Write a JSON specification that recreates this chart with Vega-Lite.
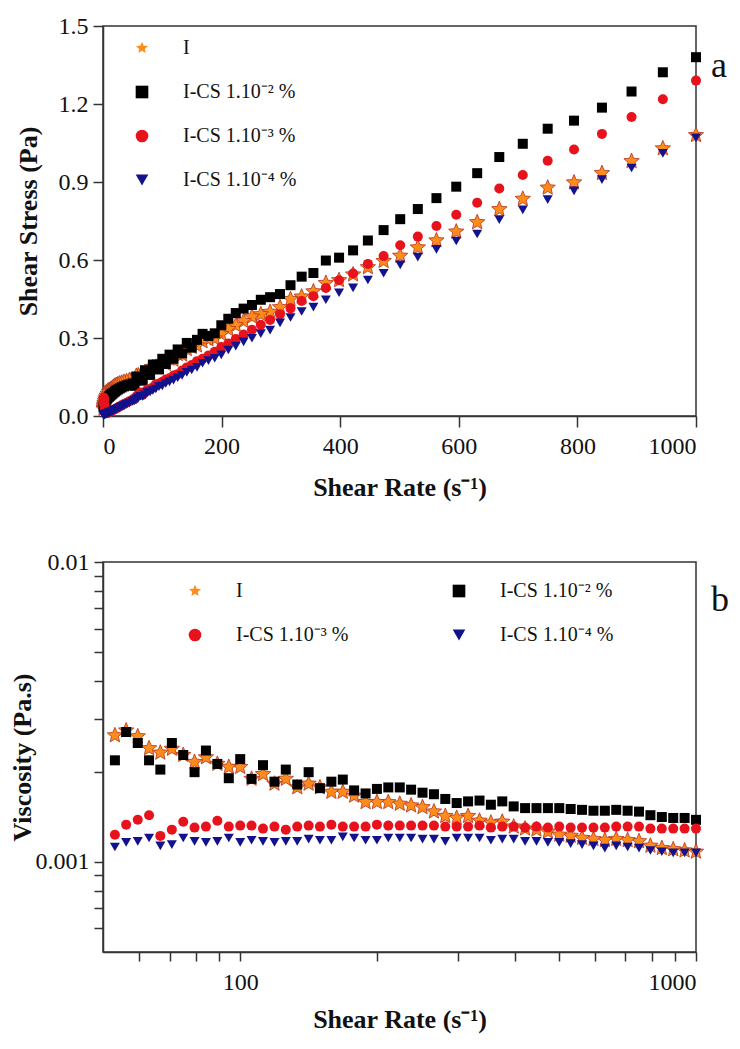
{
  "$schema": "https://vega.github.io/schema/vega-lite/v6.json",
  "background": "white",
  "padding": {"left": 8, "top": 13, "right": 5, "bottom": 5},
  "config": {
    "font": "Liberation Serif",
    "view": {"stroke": "#333333", "strokeWidth": 1.5},
    "axis": {
      "grid": false,
      "domainColor": "#333333",
      "domainWidth": 1.5,
      "tickColor": "#333333",
      "tickWidth": 1.5,
      "labelFont": "Liberation Serif",
      "labelFontSize": 24,
      "labelColor": "#111111",
      "titleFont": "Liberation Serif",
      "titleFontSize": 26,
      "titleFontWeight": "bold",
      "titleColor": "#111111"
    },
    "legend": {
      "labelFont": "Liberation Serif",
      "labelFontSize": 20,
      "labelColor": "#111111"
    },
    "concat": {"spacing": 48}
  },
  "datasets": {
    "d": [
      {"s":"I","r":1000,"t":1.080,"v":0.00108},
      {"s":"I","r":944.1,"t":1.029,"v":0.00109},
      {"s":"I","r":891.3,"t":0.980,"v":0.00110},
      {"s":"I","r":841.4,"t":0.934,"v":0.00111},
      {"s":"I","r":794.3,"t":0.898,"v":0.00113},
      {"s":"I","r":749.9,"t":0.878,"v":0.00117},
      {"s":"I","r":707.9,"t":0.835,"v":0.00118},
      {"s":"I","r":668.3,"t":0.795,"v":0.00119},
      {"s":"I","r":631.0,"t":0.745,"v":0.00118},
      {"s":"I","r":595.7,"t":0.709,"v":0.00119},
      {"s":"I","r":562.3,"t":0.675,"v":0.00120},
      {"s":"I","r":530.9,"t":0.648,"v":0.00122},
      {"s":"I","r":501.2,"t":0.616,"v":0.00123},
      {"s":"I","r":473.2,"t":0.596,"v":0.00126},
      {"s":"I","r":446.7,"t":0.572,"v":0.00128},
      {"s":"I","r":421.7,"t":0.544,"v":0.00129},
      {"s":"I","r":398.1,"t":0.522,"v":0.00131},
      {"s":"I","r":375.8,"t":0.511,"v":0.00136},
      {"s":"I","r":354.8,"t":0.479,"v":0.00135},
      {"s":"I","r":335.0,"t":0.459,"v":0.00137},
      {"s":"I","r":316.2,"t":0.449,"v":0.00142},
      {"s":"I","r":298.5,"t":0.418,"v":0.00140},
      {"s":"I","r":281.8,"t":0.400,"v":0.00142},
      {"s":"I","r":266.1,"t":0.391,"v":0.00147},
      {"s":"I","r":251.2,"t":0.382,"v":0.00152},
      {"s":"I","r":237.1,"t":0.365,"v":0.00154},
      {"s":"I","r":223.9,"t":0.349,"v":0.00156},
      {"s":"I","r":211.3,"t":0.334,"v":0.00158},
      {"s":"I","r":199.5,"t":0.315,"v":0.00158},
      {"s":"I","r":188.4,"t":0.298,"v":0.00158},
      {"s":"I","r":177.8,"t":0.295,"v":0.00166},
      {"s":"I","r":167.9,"t":0.287,"v":0.00171},
      {"s":"I","r":158.5,"t":0.271,"v":0.00171},
      {"s":"I","r":149.6,"t":0.265,"v":0.00177},
      {"s":"I","r":141.3,"t":0.257,"v":0.00182},
      {"s":"I","r":133.4,"t":0.236,"v":0.00177},
      {"s":"I","r":125.9,"t":0.238,"v":0.00189},
      {"s":"I","r":118.9,"t":0.216,"v":0.00182},
      {"s":"I","r":112.2,"t":0.220,"v":0.00196},
      {"s":"I","r":105.9,"t":0.200,"v":0.00189},
      {"s":"I","r":100.0,"t":0.207,"v":0.00207},
      {"s":"I","r":94.4,"t":0.195,"v":0.00207},
      {"s":"I","r":89.1,"t":0.189,"v":0.00212},
      {"s":"I","r":84.1,"t":0.188,"v":0.00223},
      {"s":"I","r":79.4,"t":0.171,"v":0.00215},
      {"s":"I","r":75.0,"t":0.170,"v":0.00227},
      {"s":"I","r":70.8,"t":0.169,"v":0.00238},
      {"s":"I","r":66.8,"t":0.154,"v":0.00231},
      {"s":"I","r":63.1,"t":0.151,"v":0.00239},
      {"s":"I","r":59.6,"t":0.156,"v":0.00262},
      {"s":"I","r":56.2,"t":0.154,"v":0.00274},
      {"s":"I","r":53.1,"t":0.140,"v":0.00264},
      {"s":"I","r":50.1,"t":0.138},
      {"s":"I","r":44.7,"t":0.137},
      {"s":"I","r":39.8,"t":0.134},
      {"s":"I","r":35.5,"t":0.131},
      {"s":"I","r":31.6,"t":0.128},
      {"s":"I","r":28.2,"t":0.125},
      {"s":"I","r":25.1,"t":0.122},
      {"s":"I","r":22.4,"t":0.119},
      {"s":"I","r":20.0,"t":0.116},
      {"s":"I","r":17.8,"t":0.112},
      {"s":"I","r":15.8,"t":0.108},
      {"s":"I","r":14.1,"t":0.104},
      {"s":"I","r":12.6,"t":0.100},
      {"s":"I","r":11.2,"t":0.096},
      {"s":"I","r":10.0,"t":0.092},
      {"s":"I","r":7.94,"t":0.085},
      {"s":"I","r":6.31,"t":0.078},
      {"s":"I","r":5.01,"t":0.071},
      {"s":"I","r":3.98,"t":0.064},
      {"s":"I","r":3.16,"t":0.057},
      {"s":"I","r":2.51,"t":0.050},
      {"s":"I","r":2.0,"t":0.044},
      {"s":"I","r":1.58,"t":0.038},
      {"s":"I","r":1.26,"t":0.032},
      {"s":"I","r":1.0,"t":0.027},
      {"s":"I-CS 1.10\u207b\u00b2 %","r":1000,"t":1.380,"v":0.00138},
      {"s":"I-CS 1.10\u207b\u00b2 %","r":944.1,"t":1.322,"v":0.00140},
      {"s":"I-CS 1.10\u207b\u00b2 %","r":891.3,"t":1.248,"v":0.00140},
      {"s":"I-CS 1.10\u207b\u00b2 %","r":841.4,"t":1.186,"v":0.00141},
      {"s":"I-CS 1.10\u207b\u00b2 %","r":794.3,"t":1.136,"v":0.00143},
      {"s":"I-CS 1.10\u207b\u00b2 %","r":749.9,"t":1.105,"v":0.00147},
      {"s":"I-CS 1.10\u207b\u00b2 %","r":707.9,"t":1.047,"v":0.00148},
      {"s":"I-CS 1.10\u207b\u00b2 %","r":668.3,"t":0.996,"v":0.00149},
      {"s":"I-CS 1.10\u207b\u00b2 %","r":631.0,"t":0.934,"v":0.00148},
      {"s":"I-CS 1.10\u207b\u00b2 %","r":595.7,"t":0.882,"v":0.00148},
      {"s":"I-CS 1.10\u207b\u00b2 %","r":562.3,"t":0.838,"v":0.00149},
      {"s":"I-CS 1.10\u207b\u00b2 %","r":530.9,"t":0.796,"v":0.00150},
      {"s":"I-CS 1.10\u207b\u00b2 %","r":501.2,"t":0.757,"v":0.00151},
      {"s":"I-CS 1.10\u207b\u00b2 %","r":473.2,"t":0.715,"v":0.00151},
      {"s":"I-CS 1.10\u207b\u00b2 %","r":446.7,"t":0.675,"v":0.00151},
      {"s":"I-CS 1.10\u207b\u00b2 %","r":421.7,"t":0.637,"v":0.00151},
      {"s":"I-CS 1.10\u207b\u00b2 %","r":398.1,"t":0.609,"v":0.00153},
      {"s":"I-CS 1.10\u207b\u00b2 %","r":375.8,"t":0.598,"v":0.00159},
      {"s":"I-CS 1.10\u207b\u00b2 %","r":354.8,"t":0.550,"v":0.00155},
      {"s":"I-CS 1.10\u207b\u00b2 %","r":335.0,"t":0.536,"v":0.00160},
      {"s":"I-CS 1.10\u207b\u00b2 %","r":316.2,"t":0.503,"v":0.00159},
      {"s":"I-CS 1.10\u207b\u00b2 %","r":298.5,"t":0.469,"v":0.00157},
      {"s":"I-CS 1.10\u207b\u00b2 %","r":281.8,"t":0.457,"v":0.00162},
      {"s":"I-CS 1.10\u207b\u00b2 %","r":266.1,"t":0.447,"v":0.00168},
      {"s":"I-CS 1.10\u207b\u00b2 %","r":251.2,"t":0.427,"v":0.00170},
      {"s":"I-CS 1.10\u207b\u00b2 %","r":237.1,"t":0.413,"v":0.00174},
      {"s":"I-CS 1.10\u207b\u00b2 %","r":223.9,"t":0.396,"v":0.00177},
      {"s":"I-CS 1.10\u207b\u00b2 %","r":211.3,"t":0.374,"v":0.00177},
      {"s":"I-CS 1.10\u207b\u00b2 %","r":199.5,"t":0.349,"v":0.00175},
      {"s":"I-CS 1.10\u207b\u00b2 %","r":188.4,"t":0.318,"v":0.00169},
      {"s":"I-CS 1.10\u207b\u00b2 %","r":177.8,"t":0.308,"v":0.00173},
      {"s":"I-CS 1.10\u207b\u00b2 %","r":167.9,"t":0.316,"v":0.00188},
      {"s":"I-CS 1.10\u207b\u00b2 %","r":158.5,"t":0.293,"v":0.00185},
      {"s":"I-CS 1.10\u207b\u00b2 %","r":149.6,"t":0.263,"v":0.00176},
      {"s":"I-CS 1.10\u207b\u00b2 %","r":141.3,"t":0.281,"v":0.00199},
      {"s":"I-CS 1.10\u207b\u00b2 %","r":133.4,"t":0.241,"v":0.00181},
      {"s":"I-CS 1.10\u207b\u00b2 %","r":125.9,"t":0.256,"v":0.00203},
      {"s":"I-CS 1.10\u207b\u00b2 %","r":118.9,"t":0.220,"v":0.00185},
      {"s":"I-CS 1.10\u207b\u00b2 %","r":112.2,"t":0.236,"v":0.00210},
      {"s":"I-CS 1.10\u207b\u00b2 %","r":105.9,"t":0.200,"v":0.00189},
      {"s":"I-CS 1.10\u207b\u00b2 %","r":100.0,"t":0.220,"v":0.00220},
      {"s":"I-CS 1.10\u207b\u00b2 %","r":94.4,"t":0.179,"v":0.00190},
      {"s":"I-CS 1.10\u207b\u00b2 %","r":89.1,"t":0.189,"v":0.00212},
      {"s":"I-CS 1.10\u207b\u00b2 %","r":84.1,"t":0.198,"v":0.00235},
      {"s":"I-CS 1.10\u207b\u00b2 %","r":79.4,"t":0.158,"v":0.00199},
      {"s":"I-CS 1.10\u207b\u00b2 %","r":75.0,"t":0.170,"v":0.00227},
      {"s":"I-CS 1.10\u207b\u00b2 %","r":70.8,"t":0.176,"v":0.00249},
      {"s":"I-CS 1.10\u207b\u00b2 %","r":66.8,"t":0.136,"v":0.00203},
      {"s":"I-CS 1.10\u207b\u00b2 %","r":63.1,"t":0.138,"v":0.00218},
      {"s":"I-CS 1.10\u207b\u00b2 %","r":59.6,"t":0.148,"v":0.00249},
      {"s":"I-CS 1.10\u207b\u00b2 %","r":56.2,"t":0.152,"v":0.00271},
      {"s":"I-CS 1.10\u207b\u00b2 %","r":53.1,"t":0.116,"v":0.00218},
      {"s":"I-CS 1.10\u207b\u00b2 %","r":50.1,"t":0.125},
      {"s":"I-CS 1.10\u207b\u00b2 %","r":44.7,"t":0.121},
      {"s":"I-CS 1.10\u207b\u00b2 %","r":39.8,"t":0.118},
      {"s":"I-CS 1.10\u207b\u00b2 %","r":35.5,"t":0.114},
      {"s":"I-CS 1.10\u207b\u00b2 %","r":31.6,"t":0.110},
      {"s":"I-CS 1.10\u207b\u00b2 %","r":28.2,"t":0.106},
      {"s":"I-CS 1.10\u207b\u00b2 %","r":25.1,"t":0.102},
      {"s":"I-CS 1.10\u207b\u00b2 %","r":22.4,"t":0.098},
      {"s":"I-CS 1.10\u207b\u00b2 %","r":20.0,"t":0.094},
      {"s":"I-CS 1.10\u207b\u00b2 %","r":17.8,"t":0.090},
      {"s":"I-CS 1.10\u207b\u00b2 %","r":15.8,"t":0.086},
      {"s":"I-CS 1.10\u207b\u00b2 %","r":14.1,"t":0.083},
      {"s":"I-CS 1.10\u207b\u00b2 %","r":12.6,"t":0.080},
      {"s":"I-CS 1.10\u207b\u00b2 %","r":11.2,"t":0.077},
      {"s":"I-CS 1.10\u207b\u00b2 %","r":10.0,"t":0.074},
      {"s":"I-CS 1.10\u207b\u00b2 %","r":7.94,"t":0.070},
      {"s":"I-CS 1.10\u207b\u00b2 %","r":6.31,"t":0.066},
      {"s":"I-CS 1.10\u207b\u00b2 %","r":5.01,"t":0.062},
      {"s":"I-CS 1.10\u207b\u00b2 %","r":3.98,"t":0.058},
      {"s":"I-CS 1.10\u207b\u00b2 %","r":3.16,"t":0.054},
      {"s":"I-CS 1.10\u207b\u00b2 %","r":2.51,"t":0.050},
      {"s":"I-CS 1.10\u207b\u00b2 %","r":2.0,"t":0.046},
      {"s":"I-CS 1.10\u207b\u00b2 %","r":1.58,"t":0.042},
      {"s":"I-CS 1.10\u207b\u00b2 %","r":1.26,"t":0.038},
      {"s":"I-CS 1.10\u207b\u00b2 %","r":1.0,"t":0.034},
      {"s":"I-CS 1.10\u207b\u00b3 %","r":1000,"t":1.290,"v":0.00129},
      {"s":"I-CS 1.10\u207b\u00b3 %","r":944.1,"t":1.218,"v":0.00129},
      {"s":"I-CS 1.10\u207b\u00b3 %","r":891.3,"t":1.150,"v":0.00129},
      {"s":"I-CS 1.10\u207b\u00b3 %","r":841.4,"t":1.085,"v":0.00129},
      {"s":"I-CS 1.10\u207b\u00b3 %","r":794.3,"t":1.025,"v":0.00129},
      {"s":"I-CS 1.10\u207b\u00b3 %","r":749.9,"t":0.982,"v":0.00131},
      {"s":"I-CS 1.10\u207b\u00b3 %","r":707.9,"t":0.927,"v":0.00131},
      {"s":"I-CS 1.10\u207b\u00b3 %","r":668.3,"t":0.875,"v":0.00131},
      {"s":"I-CS 1.10\u207b\u00b3 %","r":631.0,"t":0.820,"v":0.00130},
      {"s":"I-CS 1.10\u207b\u00b3 %","r":595.7,"t":0.774,"v":0.00130},
      {"s":"I-CS 1.10\u207b\u00b3 %","r":562.3,"t":0.731,"v":0.00130},
      {"s":"I-CS 1.10\u207b\u00b3 %","r":530.9,"t":0.690,"v":0.00130},
      {"s":"I-CS 1.10\u207b\u00b3 %","r":501.2,"t":0.657,"v":0.00131},
      {"s":"I-CS 1.10\u207b\u00b3 %","r":473.2,"t":0.615,"v":0.00130},
      {"s":"I-CS 1.10\u207b\u00b3 %","r":446.7,"t":0.585,"v":0.00131},
      {"s":"I-CS 1.10\u207b\u00b3 %","r":421.7,"t":0.548,"v":0.00130},
      {"s":"I-CS 1.10\u207b\u00b3 %","r":398.1,"t":0.522,"v":0.00131},
      {"s":"I-CS 1.10\u207b\u00b3 %","r":375.8,"t":0.492,"v":0.00131},
      {"s":"I-CS 1.10\u207b\u00b3 %","r":354.8,"t":0.461,"v":0.00130},
      {"s":"I-CS 1.10\u207b\u00b3 %","r":335.0,"t":0.442,"v":0.00132},
      {"s":"I-CS 1.10\u207b\u00b3 %","r":316.2,"t":0.414,"v":0.00131},
      {"s":"I-CS 1.10\u207b\u00b3 %","r":298.5,"t":0.391,"v":0.00131},
      {"s":"I-CS 1.10\u207b\u00b3 %","r":281.8,"t":0.369,"v":0.00131},
      {"s":"I-CS 1.10\u207b\u00b3 %","r":266.1,"t":0.351,"v":0.00132},
      {"s":"I-CS 1.10\u207b\u00b3 %","r":251.2,"t":0.332,"v":0.00132},
      {"s":"I-CS 1.10\u207b\u00b3 %","r":237.1,"t":0.313,"v":0.00132},
      {"s":"I-CS 1.10\u207b\u00b3 %","r":223.9,"t":0.296,"v":0.00132},
      {"s":"I-CS 1.10\u207b\u00b3 %","r":211.3,"t":0.279,"v":0.00132},
      {"s":"I-CS 1.10\u207b\u00b3 %","r":199.5,"t":0.265,"v":0.00133},
      {"s":"I-CS 1.10\u207b\u00b3 %","r":188.4,"t":0.247,"v":0.00131},
      {"s":"I-CS 1.10\u207b\u00b3 %","r":177.8,"t":0.233,"v":0.00131},
      {"s":"I-CS 1.10\u207b\u00b3 %","r":167.9,"t":0.220,"v":0.00131},
      {"s":"I-CS 1.10\u207b\u00b3 %","r":158.5,"t":0.211,"v":0.00133},
      {"s":"I-CS 1.10\u207b\u00b3 %","r":149.6,"t":0.196,"v":0.00131},
      {"s":"I-CS 1.10\u207b\u00b3 %","r":141.3,"t":0.187,"v":0.00132},
      {"s":"I-CS 1.10\u207b\u00b3 %","r":133.4,"t":0.175,"v":0.00131},
      {"s":"I-CS 1.10\u207b\u00b3 %","r":125.9,"t":0.161,"v":0.00128},
      {"s":"I-CS 1.10\u207b\u00b3 %","r":118.9,"t":0.156,"v":0.00131},
      {"s":"I-CS 1.10\u207b\u00b3 %","r":112.2,"t":0.145,"v":0.00129},
      {"s":"I-CS 1.10\u207b\u00b3 %","r":105.9,"t":0.140,"v":0.00132},
      {"s":"I-CS 1.10\u207b\u00b3 %","r":100.0,"t":0.132,"v":0.00132},
      {"s":"I-CS 1.10\u207b\u00b3 %","r":94.4,"t":0.124,"v":0.00131},
      {"s":"I-CS 1.10\u207b\u00b3 %","r":89.1,"t":0.122,"v":0.00137},
      {"s":"I-CS 1.10\u207b\u00b3 %","r":84.1,"t":0.110,"v":0.00131},
      {"s":"I-CS 1.10\u207b\u00b3 %","r":79.4,"t":0.103,"v":0.00130},
      {"s":"I-CS 1.10\u207b\u00b3 %","r":75.0,"t":0.102,"v":0.00136},
      {"s":"I-CS 1.10\u207b\u00b3 %","r":70.8,"t":0.091,"v":0.00128},
      {"s":"I-CS 1.10\u207b\u00b3 %","r":66.8,"t":0.081,"v":0.00122},
      {"s":"I-CS 1.10\u207b\u00b3 %","r":63.1,"t":0.090,"v":0.00143},
      {"s":"I-CS 1.10\u207b\u00b3 %","r":59.6,"t":0.082,"v":0.00138},
      {"s":"I-CS 1.10\u207b\u00b3 %","r":56.2,"t":0.075,"v":0.00133},
      {"s":"I-CS 1.10\u207b\u00b3 %","r":53.1,"t":0.065,"v":0.00123},
      {"s":"I-CS 1.10\u207b\u00b3 %","r":50.1,"t":0.063},
      {"s":"I-CS 1.10\u207b\u00b3 %","r":44.7,"t":0.057},
      {"s":"I-CS 1.10\u207b\u00b3 %","r":39.8,"t":0.051},
      {"s":"I-CS 1.10\u207b\u00b3 %","r":35.5,"t":0.046},
      {"s":"I-CS 1.10\u207b\u00b3 %","r":31.6,"t":0.041},
      {"s":"I-CS 1.10\u207b\u00b3 %","r":28.2,"t":0.037},
      {"s":"I-CS 1.10\u207b\u00b3 %","r":25.1,"t":0.033},
      {"s":"I-CS 1.10\u207b\u00b3 %","r":22.4,"t":0.029},
      {"s":"I-CS 1.10\u207b\u00b3 %","r":20.0,"t":0.026},
      {"s":"I-CS 1.10\u207b\u00b3 %","r":17.8,"t":0.024},
      {"s":"I-CS 1.10\u207b\u00b3 %","r":15.8,"t":0.021},
      {"s":"I-CS 1.10\u207b\u00b3 %","r":14.1,"t":0.019},
      {"s":"I-CS 1.10\u207b\u00b3 %","r":12.6,"t":0.017},
      {"s":"I-CS 1.10\u207b\u00b3 %","r":11.2,"t":0.015},
      {"s":"I-CS 1.10\u207b\u00b3 %","r":10.0,"t":0.014},
      {"s":"I-CS 1.10\u207b\u00b3 %","r":7.94,"t":0.012},
      {"s":"I-CS 1.10\u207b\u00b3 %","r":6.31,"t":0.012},
      {"s":"I-CS 1.10\u207b\u00b3 %","r":5.01,"t":0.015},
      {"s":"I-CS 1.10\u207b\u00b3 %","r":3.98,"t":0.020},
      {"s":"I-CS 1.10\u207b\u00b3 %","r":3.16,"t":0.030},
      {"s":"I-CS 1.10\u207b\u00b3 %","r":2.51,"t":0.040},
      {"s":"I-CS 1.10\u207b\u00b3 %","r":2.0,"t":0.060},
      {"s":"I-CS 1.10\u207b\u00b3 %","r":1.58,"t":0.070},
      {"s":"I-CS 1.10\u207b\u00b3 %","r":1.26,"t":0.060},
      {"s":"I-CS 1.10\u207b\u00b3 %","r":1.0,"t":0.050},
      {"s":"I-CS 1.10\u207b\u2074 %","r":1000,"t":1.070,"v":0.00107},
      {"s":"I-CS 1.10\u207b\u2074 %","r":944.1,"t":1.010,"v":0.00107},
      {"s":"I-CS 1.10\u207b\u2074 %","r":891.3,"t":0.954,"v":0.00107},
      {"s":"I-CS 1.10\u207b\u2074 %","r":841.4,"t":0.909,"v":0.00108},
      {"s":"I-CS 1.10\u207b\u2074 %","r":794.3,"t":0.866,"v":0.00109},
      {"s":"I-CS 1.10\u207b\u2074 %","r":749.9,"t":0.832,"v":0.00111},
      {"s":"I-CS 1.10\u207b\u2074 %","r":707.9,"t":0.793,"v":0.00112},
      {"s":"I-CS 1.10\u207b\u2074 %","r":668.3,"t":0.755,"v":0.00113},
      {"s":"I-CS 1.10\u207b\u2074 %","r":631.0,"t":0.700,"v":0.00111},
      {"s":"I-CS 1.10\u207b\u2074 %","r":595.7,"t":0.673,"v":0.00113},
      {"s":"I-CS 1.10\u207b\u2074 %","r":562.3,"t":0.641,"v":0.00114},
      {"s":"I-CS 1.10\u207b\u2074 %","r":530.9,"t":0.611,"v":0.00115},
      {"s":"I-CS 1.10\u207b\u2074 %","r":501.2,"t":0.581,"v":0.00116},
      {"s":"I-CS 1.10\u207b\u2074 %","r":473.2,"t":0.549,"v":0.00116},
      {"s":"I-CS 1.10\u207b\u2074 %","r":446.7,"t":0.523,"v":0.00117},
      {"s":"I-CS 1.10\u207b\u2074 %","r":421.7,"t":0.493,"v":0.00117},
      {"s":"I-CS 1.10\u207b\u2074 %","r":398.1,"t":0.474,"v":0.00119},
      {"s":"I-CS 1.10\u207b\u2074 %","r":375.8,"t":0.447,"v":0.00119},
      {"s":"I-CS 1.10\u207b\u2074 %","r":354.8,"t":0.419,"v":0.00118},
      {"s":"I-CS 1.10\u207b\u2074 %","r":335.0,"t":0.402,"v":0.00120},
      {"s":"I-CS 1.10\u207b\u2074 %","r":316.2,"t":0.379,"v":0.00120},
      {"s":"I-CS 1.10\u207b\u2074 %","r":298.5,"t":0.358,"v":0.00120},
      {"s":"I-CS 1.10\u207b\u2074 %","r":281.8,"t":0.330,"v":0.00117},
      {"s":"I-CS 1.10\u207b\u2074 %","r":266.1,"t":0.317,"v":0.00119},
      {"s":"I-CS 1.10\u207b\u2074 %","r":251.2,"t":0.299,"v":0.00119},
      {"s":"I-CS 1.10\u207b\u2074 %","r":237.1,"t":0.285,"v":0.00120},
      {"s":"I-CS 1.10\u207b\u2074 %","r":223.9,"t":0.269,"v":0.00120},
      {"s":"I-CS 1.10\u207b\u2074 %","r":211.3,"t":0.254,"v":0.00120},
      {"s":"I-CS 1.10\u207b\u2074 %","r":199.5,"t":0.235,"v":0.00118},
      {"s":"I-CS 1.10\u207b\u2074 %","r":188.4,"t":0.222,"v":0.00118},
      {"s":"I-CS 1.10\u207b\u2074 %","r":177.8,"t":0.213,"v":0.00120},
      {"s":"I-CS 1.10\u207b\u2074 %","r":167.9,"t":0.203,"v":0.00121},
      {"s":"I-CS 1.10\u207b\u2074 %","r":158.5,"t":0.187,"v":0.00118},
      {"s":"I-CS 1.10\u207b\u2074 %","r":149.6,"t":0.177,"v":0.00118},
      {"s":"I-CS 1.10\u207b\u2074 %","r":141.3,"t":0.168,"v":0.00119},
      {"s":"I-CS 1.10\u207b\u2074 %","r":133.4,"t":0.156,"v":0.00117},
      {"s":"I-CS 1.10\u207b\u2074 %","r":125.9,"t":0.147,"v":0.00117},
      {"s":"I-CS 1.10\u207b\u2074 %","r":118.9,"t":0.138,"v":0.00116},
      {"s":"I-CS 1.10\u207b\u2074 %","r":112.2,"t":0.131,"v":0.00117},
      {"s":"I-CS 1.10\u207b\u2074 %","r":105.9,"t":0.125,"v":0.00118},
      {"s":"I-CS 1.10\u207b\u2074 %","r":100.0,"t":0.116,"v":0.00116},
      {"s":"I-CS 1.10\u207b\u2074 %","r":94.4,"t":0.113,"v":0.00120},
      {"s":"I-CS 1.10\u207b\u2074 %","r":89.1,"t":0.104,"v":0.00117},
      {"s":"I-CS 1.10\u207b\u2074 %","r":84.1,"t":0.098,"v":0.00116},
      {"s":"I-CS 1.10\u207b\u2074 %","r":79.4,"t":0.093,"v":0.00117},
      {"s":"I-CS 1.10\u207b\u2074 %","r":75.0,"t":0.090,"v":0.00120},
      {"s":"I-CS 1.10\u207b\u2074 %","r":70.8,"t":0.081,"v":0.00114},
      {"s":"I-CS 1.10\u207b\u2074 %","r":66.8,"t":0.075,"v":0.00113},
      {"s":"I-CS 1.10\u207b\u2074 %","r":63.1,"t":0.076,"v":0.00120},
      {"s":"I-CS 1.10\u207b\u2074 %","r":59.6,"t":0.070,"v":0.00117},
      {"s":"I-CS 1.10\u207b\u2074 %","r":56.2,"t":0.065,"v":0.00116},
      {"s":"I-CS 1.10\u207b\u2074 %","r":53.1,"t":0.059,"v":0.00112},
      {"s":"I-CS 1.10\u207b\u2074 %","r":50.1,"t":0.056},
      {"s":"I-CS 1.10\u207b\u2074 %","r":44.7,"t":0.050},
      {"s":"I-CS 1.10\u207b\u2074 %","r":39.8,"t":0.045},
      {"s":"I-CS 1.10\u207b\u2074 %","r":35.5,"t":0.040},
      {"s":"I-CS 1.10\u207b\u2074 %","r":31.6,"t":0.036},
      {"s":"I-CS 1.10\u207b\u2074 %","r":28.2,"t":0.032},
      {"s":"I-CS 1.10\u207b\u2074 %","r":25.1,"t":0.029},
      {"s":"I-CS 1.10\u207b\u2074 %","r":22.4,"t":0.026},
      {"s":"I-CS 1.10\u207b\u2074 %","r":20.0,"t":0.023},
      {"s":"I-CS 1.10\u207b\u2074 %","r":17.8,"t":0.021},
      {"s":"I-CS 1.10\u207b\u2074 %","r":15.8,"t":0.018},
      {"s":"I-CS 1.10\u207b\u2074 %","r":14.1,"t":0.016},
      {"s":"I-CS 1.10\u207b\u2074 %","r":12.6,"t":0.015},
      {"s":"I-CS 1.10\u207b\u2074 %","r":11.2,"t":0.013},
      {"s":"I-CS 1.10\u207b\u2074 %","r":10.0,"t":0.012},
      {"s":"I-CS 1.10\u207b\u2074 %","r":7.94,"t":0.010},
      {"s":"I-CS 1.10\u207b\u2074 %","r":6.31,"t":0.008},
      {"s":"I-CS 1.10\u207b\u2074 %","r":5.01,"t":0.007},
      {"s":"I-CS 1.10\u207b\u2074 %","r":3.98,"t":0.006},
      {"s":"I-CS 1.10\u207b\u2074 %","r":3.16,"t":0.005},
      {"s":"I-CS 1.10\u207b\u2074 %","r":2.51,"t":0.005},
      {"s":"I-CS 1.10\u207b\u2074 %","r":2.0,"t":0.004},
      {"s":"I-CS 1.10\u207b\u2074 %","r":1.58,"t":0.004},
      {"s":"I-CS 1.10\u207b\u2074 %","r":1.26,"t":0.003},
      {"s":"I-CS 1.10\u207b\u2074 %","r":1.0,"t":0.003}
    ]
  },
  "vconcat": [
    {
      "width": 593,
      "height": 390,
      "data": {"name": "d"},
      "title": {"text": "a", "orient": "top", "anchor": "end", "frame": "group", "align": "left", "baseline": "alphabetic", "offset": 0, "dx": 15, "dy": 99, "fontSize": 36, "fontWeight": "normal", "font": "Liberation Serif", "color": "#111111"},
      "mark": {"type": "point", "filled": true, "opacity": 1, "strokeWidth": 0.8},
      "encoding": {
        "x": {"field": "r", "type": "quantitative", "scale": {"domain": [0, 1000], "nice": false, "zero": false},
              "axis": {"title": "Shear Rate (s\u207b\u00b9)", "values": [0, 200, 400, 600, 800, 1000], "format": "d", "tickSize": 11, "labelPadding": 7, "titlePadding": 16}},
        "y": {"field": "t", "type": "quantitative", "scale": {"domain": [0, 1.5], "nice": false},
              "axis": {"title": "Shear Stress (Pa)", "values": [0, 0.3, 0.6, 0.9, 1.2, 1.5], "format": ".1f", "tickSize": 10, "labelPadding": 5, "titlePadding": 17}},
        "color": {"field": "s", "type": "nominal",
                  "scale": {"domain": ["I", "I-CS 1.10\u207b\u00b2 %", "I-CS 1.10\u207b\u00b3 %", "I-CS 1.10\u207b\u2074 %"], "range": ["#FF8C1A", "#000000", "#E8121C", "#12128C"]},
                  "legend": {"title": null, "orient": "none", "legendX": 29, "legendY": 12, "direction": "vertical", "symbolSize": 160, "labelOffset": 31, "rowPadding": 24}},
        "shape": {"field": "s", "type": "nominal",
                  "scale": {"domain": ["I", "I-CS 1.10\u207b\u00b2 %", "I-CS 1.10\u207b\u00b3 %", "I-CS 1.10\u207b\u2074 %"],
                            "range": ["M0,-1L0.265,-0.364L0.951,-0.309L0.428,0.139L0.588,0.809L0,0.45L-0.588,0.809L-0.428,0.139L-0.951,-0.309L-0.265,-0.364Z", "square", "circle", "triangle-down"]}},
        "size": {"condition": {"test": "datum.s == 'I'", "value": 260}, "value": 100},
        "stroke": {"condition": {"test": "datum.s == 'I'", "value": "#B03020"}, "value": "transparent"}
      }
    },
    {
      "width": 593,
      "height": 390,
      "data": {"name": "d"},
      "transform": [{"filter": {"field": "v", "valid": true}}],
      "title": {"text": "b", "orient": "top", "anchor": "end", "frame": "group", "align": "left", "baseline": "alphabetic", "offset": 0, "dx": 15, "dy": 97, "fontSize": 36, "fontWeight": "normal", "font": "Liberation Serif", "color": "#111111"},
      "mark": {"type": "point", "filled": true, "opacity": 1, "strokeWidth": 0.8},
      "encoding": {
        "x": {"field": "r", "type": "quantitative", "scale": {"type": "log", "domain": [50, 1000], "nice": false},
              "axis": {"title": "Shear Rate (s\u207b\u00b9)", "values": [60, 70, 80, 90, 100, 200, 300, 400, 500, 600, 700, 800, 900, 1000],
                       "labelExpr": "datum.value == 100 || datum.value == 1000 ? datum.label : ''", "format": "d",
                       "tickSize": 9, "labelPadding": 9, "titlePadding": 12}},
        "y": {"field": "v", "type": "quantitative", "scale": {"type": "log", "domain": [0.0005, 0.01], "nice": false},
              "axis": {"title": "Viscosity (Pa.s)", "values": [0.0006, 0.0007, 0.0008, 0.0009, 0.001, 0.002, 0.003, 0.004, 0.005, 0.006, 0.007, 0.008, 0.009, 0.01],
                       "labelExpr": "datum.value == 0.01 ? '0.01' : datum.value == 0.001 ? '0.001' : ''",
                       "tickSize": 9, "labelPadding": 5, "titlePadding": 0}},
        "color": {"field": "s", "type": "nominal",
                  "scale": {"domain": ["I", "I-CS 1.10\u207b\u00b3 %", "I-CS 1.10\u207b\u00b2 %", "I-CS 1.10\u207b\u2074 %"], "range": ["#FF8C1A", "#E8121C", "#000000", "#12128C"]},
                  "legend": {"title": null, "orient": "none", "legendX": 82, "legendY": 19, "columns": 2, "columnPadding": 100, "symbolSize": 160, "labelOffset": 31, "rowPadding": 24}},
        "shape": {"field": "s", "type": "nominal",
                  "scale": {"domain": ["I", "I-CS 1.10\u207b\u00b3 %", "I-CS 1.10\u207b\u00b2 %", "I-CS 1.10\u207b\u2074 %"],
                            "range": ["M0,-1L0.265,-0.364L0.951,-0.309L0.428,0.139L0.588,0.809L0,0.45L-0.588,0.809L-0.428,0.139L-0.951,-0.309L-0.265,-0.364Z", "circle", "square", "triangle-down"]}},
        "size": {"condition": {"test": "datum.s == 'I'", "value": 260}, "value": 100},
        "stroke": {"condition": {"test": "datum.s == 'I'", "value": "#B03020"}, "value": "transparent"}
      }
    }
  ],
  "resolve": {"scale": {"color": "independent", "shape": "independent"}, "legend": {"color": "independent", "shape": "independent"}}
}
